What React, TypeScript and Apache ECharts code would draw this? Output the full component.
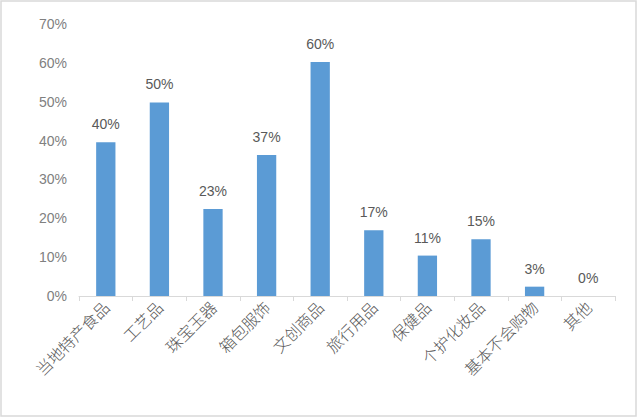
import React, { useEffect, useRef } from "react";
import * as echarts from "echarts";

const categories = ["当地特产食品", "工艺品", "珠宝玉器", "箱包服饰", "文创商品", "旅行用品", "保健品", "个护化妆品", "基本不会购物", "其他"];
const values = [39.6, 49.8, 22.4, 36.3, 60.2, 16.9, 10.4, 14.6, 2.4, 0];
const valueLabels = ["40%", "50%", "23%", "37%", "60%", "17%", "11%", "15%", "3%", "0%"];

export default function App() {
  const ref = useRef<HTMLDivElement>(null);
  useEffect(() => {
    document.body.style.margin = "0";
    const chart = echarts.init(ref.current!, null, { renderer: "svg" });
    chart.setOption({
      animation: false,
      backgroundColor: "#ffffff",
      graphic: [
        {
          type: "rect",
          shape: { x: 1, y: 1, width: 635, height: 415 },
          style: { fill: "none", stroke: "#d9d9d9", lineWidth: 1.5 },
          silent: true,
        },
      ],
      grid: { left: 79, right: 25, top: 24, bottom: 122, containLabel: false },
      xAxis: {
        type: "category",
        data: categories,
        axisLine: { lineStyle: { color: "#d9d9d9", width: 1 } },
        axisTick: { show: true, length: 5, lineStyle: { color: "#d9d9d9" } },
        axisLabel: {
          interval: 0,
          rotate: 45,
          margin: 8,
          color: "#595959",
          fontSize: 16,
          fontFamily: "Noto Sans CJK SC",
          fontWeight: 300,
        },
      },
      yAxis: {
        type: "value",
        min: 0,
        max: 70,
        interval: 10,
        axisLine: { show: false },
        axisTick: { show: false },
        splitLine: { show: false },
        axisLabel: {
          formatter: "{value}%",
          color: "#808080",
          fontSize: 14,
          margin: 12,
          fontFamily: "Liberation Sans",
        },
      },
      series: [
        {
          type: "bar",
          data: values,
          barWidth: "36%",
          itemStyle: { color: "#5b9bd5" },
          label: {
            show: true,
            position: "top",
            distance: 11,
            color: "#595959",
            fontSize: 14,
            fontFamily: "Liberation Sans",
            formatter: (p: any) => valueLabels[p.dataIndex],
          },
        },
      ],
    });
    return () => chart.dispose();
  }, []);
  return <div ref={ref} style={{ position: "absolute", left: 0, top: 0, width: 640, height: 418 }} />;
}
